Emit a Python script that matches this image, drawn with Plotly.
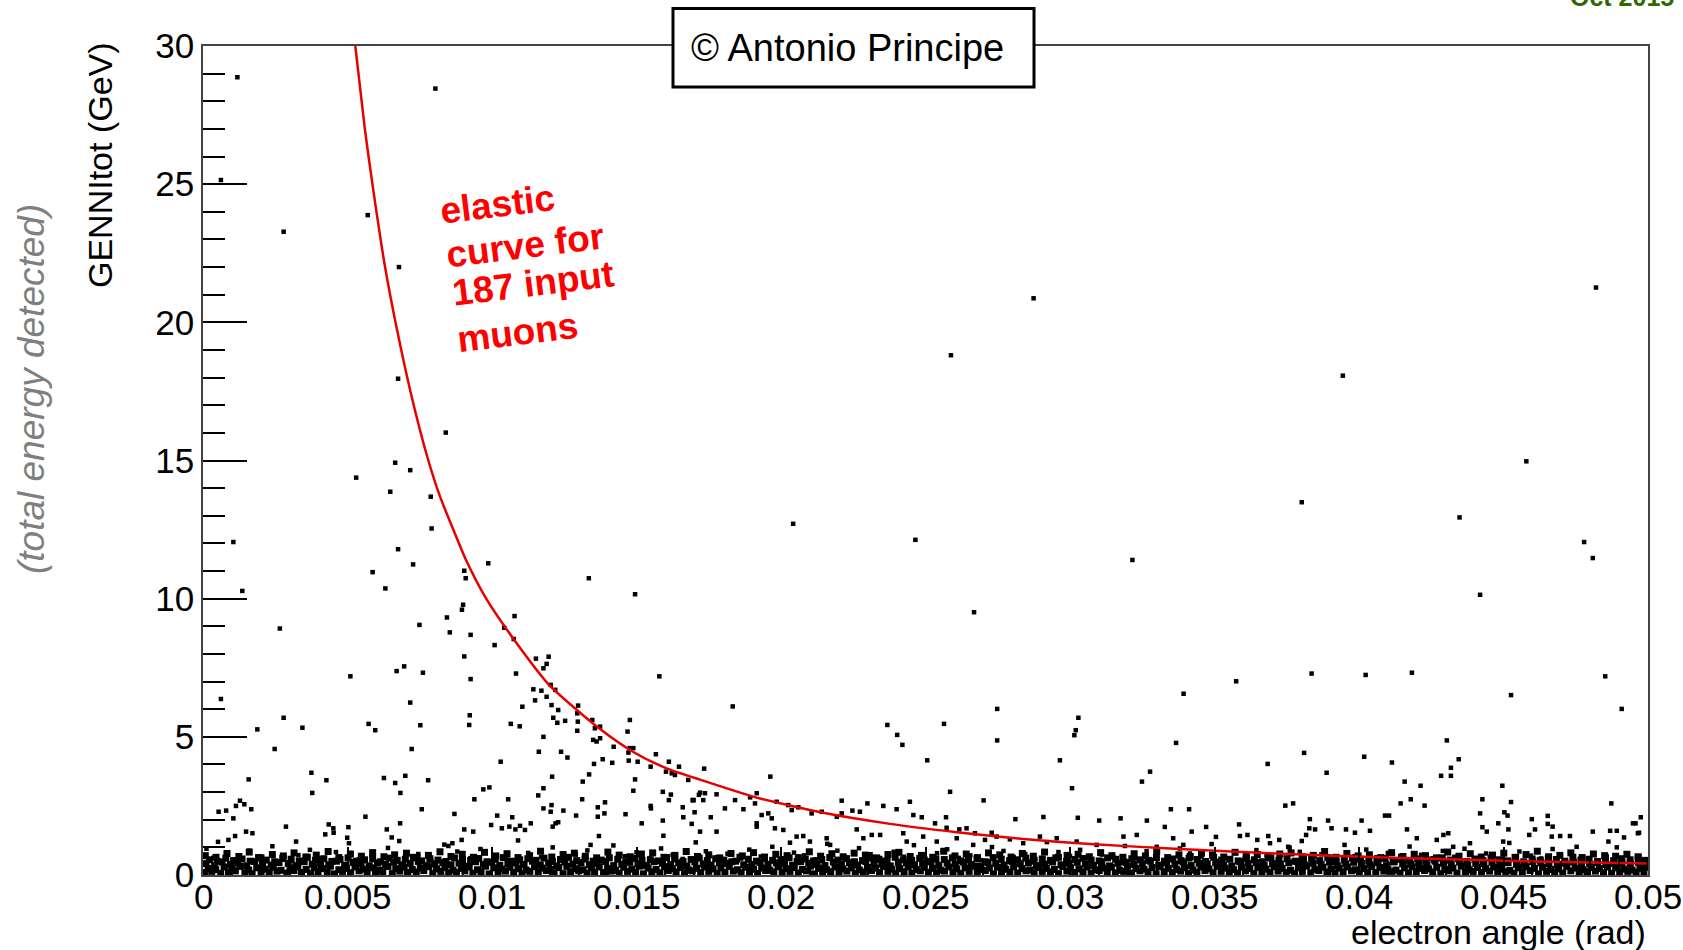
import plotly.graph_objects as go

FONT = "Liberation Sans"

# ---------------- data ----------------
# elastic curve (electron angle [rad], energy [GeV])
curve_theta = [0.00527, 0.0056, 0.00589, 0.0063, 0.0067, 0.0072, 0.00777, 0.0082, 0.00866, 0.0091,
               0.0098, 0.01074, 0.012, 0.01374, 0.01489, 0.016, 0.0172, 0.01916, 0.02146, 0.02377,
               0.02608, 0.02839, 0.03069, 0.03346, 0.03692, 0.04038, 0.04384, 0.04615, 0.04995]
curve_e = [30.0, 27.0, 24.8, 22.0, 19.8, 17.4, 15.1, 13.7, 12.5, 11.4,
           10.0, 8.55, 6.85, 5.28, 4.45, 3.88, 3.45, 2.8, 2.25, 1.85,
           1.55, 1.3, 1.12, 0.96, 0.79, 0.65, 0.55, 0.49, 0.42]

# isolated events, high energy
high_theta = [0.00119, 0.00804, 0.00062, 0.0057, 0.00279, 0.00678, 0.00675, 0.0084, 0.00665, 0.00717,
              0.0053, 0.00648, 0.00788, 0.00791, 0.00105, 0.00675,
              0.02042, 0.02465, 0.02588, 0.02874, 0.03802, 0.03944, 0.04348, 0.04579, 0.0482, 0.04779,
              0.04809, 0.03216, 0.02668, 0.04419,
              0.00136, 0.00587, 0.00727, 0.00631, 0.00904, 0.00909, 0.00987, 0.01335, 0.01495, 0.00266,
              0.009, 0.00896, 0.00844, 0.00854, 0.00749, 0.00926, 0.01078, 0.01042, 0.01075, 0.01009]
high_e = [28.87, 28.46, 25.15, 23.88, 23.28, 22.0, 17.96, 16.01, 14.92, 14.65,
          14.38, 13.87, 13.69, 12.54, 12.05, 11.79,
          12.71, 12.13, 18.81, 20.87, 13.49, 18.07, 12.94, 14.97, 21.26, 12.05,
          11.47, 11.40, 9.51, 10.14,
          10.28, 10.96, 11.24, 10.37, 11.01, 10.74, 11.28, 10.74, 10.16, 8.92,
          9.78, 9.60, 9.32, 8.78, 9.05, 8.69, 9.37, 8.95, 8.54, 8.32]

# events at intermediate energy, left part (theta < 0.018)
mid_left_theta = [0.00904, 0.00926, 0.01083, 0.01152, 0.01178, 0.01189, 0.01196, 0.0051, 0.0067, 0.00696,
                  0.00761, 0.00062, 0.00717, 0.01143, 0.01171, 0.01149, 0.01203, 0.01219, 0.01105, 0.01189,
                  0.01206, 0.01229, 0.01298, 0.01212, 0.01226, 0.01253, 0.01295, 0.01297, 0.01295, 0.00279,
                  0.00344, 0.00188, 0.00573, 0.00596, 0.00752, 0.00923, 0.00921, 0.01065, 0.01096, 0.01347,
                  0.01374, 0.01356, 0.01374, 0.0135, 0.01362, 0.01477, 0.01469, 0.01477, 0.01472, 0.01489,
                  0.00248, 0.00722, 0.01162, 0.01178, 0.01239, 0.01261, 0.01421, 0.01416, 0.01383, 0.01353,
                  0.01504, 0.01473, 0.01567, 0.01549, 0.01612, 0.01602, 0.01622, 0.01633, 0.01647, 0.01679,
                  0.0103, 0.00158, 0.00375, 0.00378, 0.00427, 0.00626, 0.00665, 0.007, 0.00683, 0.00779,
                  0.01208, 0.01178, 0.0116, 0.01178, 0.01206, 0.01203, 0.01314, 0.01336, 0.01312, 0.01495,
                  0.01489, 0.01579, 0.0097, 0.00991, 0.00939, 0.01056, 0.01591, 0.01619, 0.01612, 0.01697,
                  0.01716]
mid_left_e = [7.91, 7.09, 7.29, 7.83, 7.48, 7.64, 7.90, 7.19, 7.38, 7.55,
              7.32, 6.37, 6.24, 6.72, 6.67, 6.32, 6.88, 6.70, 6.09, 6.45,
              6.15, 5.97, 6.13, 5.69, 5.51, 5.58, 5.85, 5.55, 5.22, 5.69,
              5.33, 5.27, 5.47, 5.24, 5.42, 5.78, 5.43, 5.47, 5.38, 5.61,
              5.37, 5.31, 4.95, 4.89, 4.83, 5.61, 5.19, 4.59, 4.43, 4.59,
              4.56, 4.56, 4.46, 5.0, 4.46, 4.25, 4.64, 4.06, 4.19, 4.02,
              4.10, 4.14, 4.37, 3.92, 4.10, 3.74, 3.68, 3.62, 3.92, 3.44,
              4.10, 3.46, 3.70, 2.97, 3.43, 3.51, 3.33, 3.59, 2.97, 3.43,
              3.56, 3.14, 2.88, 2.41, 2.53, 2.29, 3.38, 3.64, 2.74, 3.46,
              3.05, 7.19, 3.10, 3.17, 2.74, 2.74, 3.01, 2.91, 2.71, 2.71,
              2.90]

# events at intermediate energy, right part (theta > 0.017)
mid_right_theta = [0.01833, 0.02748, 0.02748, 0.02368, 0.02402, 0.0242, 0.02564, 0.02506, 0.03029, 0.0302,
                   0.03015, 0.03007, 0.02965, 0.03393, 0.03367, 0.03277, 0.03249, 0.02585, 0.02701, 0.01963,
                   0.01734, 0.03349, 0.03412, 0.03575, 0.03836, 0.04023, 0.04183, 0.04852, 0.04526, 0.04909,
                   0.03684, 0.0381, 0.04018, 0.03888, 0.04114, 0.04304, 0.04345, 0.04318, 0.04318, 0.04284,
                   0.04158, 0.04213, 0.04496, 0.04873, 0.04427, 0.04419, 0.04526, 0.04503, 0.04514, 0.04144,
                   0.04179, 0.04227, 0.03745, 0.03772]
mid_right_e = [6.10, 6.01, 4.87, 5.43, 5.07, 4.71, 5.47, 4.15, 5.69, 5.24,
               5.06, 3.14, 4.15, 6.56, 4.78, 3.74, 3.38, 3.01, 2.70, 3.56,
               3.85, 2.38, 2.38, 7.01, 7.29, 7.24, 7.32, 7.19, 6.51, 6.01,
               4.02, 4.42, 4.28, 3.70, 4.07, 4.87, 4.19, 3.88, 3.59, 3.59,
               3.38, 3.23, 3.23, 2.59, 2.74, 2.23, 2.64, 2.27, 2.15, 2.59,
               2.74, 2.51, 2.51, 2.59]

# events in the 1-3 GeV range
low_theta = [0.00054, 0.0008, 0.00128, 0.00143, 0.00114, 0.00167, 0.00105, 0.00088, 0.00111, 0.00149,
             0.00171, 0.00287, 0.00322, 0.00562, 0.00435, 0.00451, 0.00452, 0.00423, 0.00503, 0.00499,
             0.00636, 0.00653, 0.00682, 0.00679, 0.00757, 0.0087, 0.00904, 0.00935, 0.00895, 0.00863,
             0.00849, 0.00997, 0.01018, 0.01034, 0.0107, 0.0106, 0.01081, 0.01097, 0.01134, 0.01114,
             0.01247, 0.01291, 0.01229, 0.0122, 0.0121, 0.01366, 0.01366, 0.01391, 0.01389, 0.0137,
             0.01341, 0.01462, 0.01518, 0.01549, 0.0155, 0.01591, 0.01593, 0.0166, 0.01662, 0.01691,
             0.01694,
             0.0172, 0.01737, 0.01777, 0.01731, 0.01697, 0.01701, 0.01757, 0.01806, 0.01841, 0.0187,
             0.01916, 0.01893, 0.0191, 0.01933, 0.01956, 0.01985, 0.01968, 0.01979, 0.02025, 0.02037,
             0.0206, 0.01777, 0.0172, 0.01916, 0.02106, 0.02141, 0.02193, 0.0221, 0.0221, 0.02247,
             0.02273, 0.02299, 0.02354, 0.024, 0.02446, 0.02458, 0.02487, 0.02533, 0.02571, 0.02573,
             0.02617, 0.02642, 0.02671, 0.02706, 0.02729, 0.02792, 0.02811, 0.02908, 0.03027, 0.03101,
             0.03175, 0.03266, 0.03328, 0.01916, 0.02008, 0.02054, 0.02031, 0.02077, 0.021, 0.02158,
             0.0217, 0.02262, 0.02285, 0.02314, 0.02343, 0.02423, 0.02435, 0.02492, 0.02539, 0.02608,
             0.02665, 0.02746, 0.02838, 0.02896, 0.02954, 0.03023, 0.03092, 0.03185, 0.03231, 0.033,
             0.03357, 0.03392,
             0.04975, 0.04957, 0.04969, 0.04917, 0.0409, 0.04104, 0.04009, 0.04038, 0.03955, 0.03986,
             0.03905, 0.03893, 0.0383, 0.03848, 0.03828, 0.03817, 0.03802, 0.03585, 0.03471, 0.03421,
             0.03505, 0.03588, 0.03614, 0.03648, 0.03686, 0.03724, 0.03692, 0.03755, 0.04166, 0.042,
             0.04269, 0.04292, 0.04309, 0.04326, 0.04384, 0.04427, 0.04442, 0.04482, 0.04517, 0.04499,
             0.04598, 0.04609, 0.04589, 0.04653, 0.04653, 0.0467, 0.04667, 0.04696, 0.0473, 0.04753,
             0.04809, 0.04869, 0.04892, 0.04863, 0.04892, 0.04948, 0.04965]
low_e = [2.29, 2.33, 2.69, 2.56, 2.50, 2.38, 2.05, 1.27, 1.41, 1.57,
         1.51, 1.75, 1.21, 2.11, 1.83, 1.69, 1.53, 1.47, 1.73, 1.35,
         1.65, 1.36, 1.87, 1.23, 2.38, 2.21, 1.65, 1.57, 1.27, 1.15,
         1.05, 1.81, 2.15, 1.69, 2.09, 1.75, 1.65, 1.78, 1.87, 1.63,
         2.33, 2.15, 1.91, 1.87, 1.75, 2.45, 2.11, 2.63, 2.23, 1.41,
         1.09, 2.20, 1.87, 2.50, 2.41, 1.97, 1.42, 2.45, 2.09, 1.85,
         2.71,
         2.98, 2.96, 2.92, 2.71, 2.71, 2.27, 2.09, 2.41, 2.71, 2.38,
         2.96, 2.81, 2.59, 2.17, 2.23, 2.65, 2.05, 1.69, 2.53, 2.35,
         2.45, 1.57, 1.57, 1.75, 2.23, 2.29, 2.11, 2.23, 2.69, 2.33,
         2.29, 2.59, 2.50, 2.38, 2.65, 2.17, 2.09, 1.87, 2.09, 1.71,
         1.65, 1.69, 1.51, 1.27, 1.53, 1.29, 2.02, 2.10, 2.07, 1.97,
         2.05, 1.97, 1.74, 1.87, 1.63, 1.39, 1.17, 1.41, 1.21, 1.33,
         1.09, 1.65, 1.33, 1.45, 1.45, 1.51, 1.21, 1.39, 1.21, 1.33,
         1.09, 1.39, 1.15, 1.39, 1.33, 1.21, 1.09, 1.39, 1.45, 1.02,
         1.33, 1.09,
         2.09, 1.87, 1.53, 1.36, 2.15, 2.15, 1.97, 1.60, 1.65, 1.53,
         1.69, 1.97, 2.02, 1.65, 1.69, 1.45, 1.23, 1.83, 1.74, 1.57,
         1.38, 1.41, 1.45, 1.27, 1.41, 1.27, 1.15, 1.02, 1.65, 1.33,
         1.27, 1.45, 1.51, 1.02, 1.15, 1.73, 1.57, 1.87, 1.65, 1.21,
         2.02, 1.65, 1.45, 2.14, 1.85, 1.75, 1.39, 1.41, 1.41, 1.02,
         1.57, 1.60, 1.60, 1.21, 1.00, 1.87, 1.51]

# dense band below ~1.3 GeV: angle in 1e-5 rad, energy in 0.01 GeV
band1_x = [5, 30, 61, 88, 112, 145, 170, 201, 229, 256, 290, 315, 341, 372, 398, 430, 455, 483, 511, 540,
           568, 597, 622, 655, 681, 709, 738, 764, 795, 823, 850, 877, 906, 934, 962, 990, 1021, 1047, 1075, 1104,
           1131, 1160, 1188, 1215, 1246, 1272, 1300, 1329, 1355, 1386, 1412, 1440, 1469, 1497, 1524, 1553, 1581, 1610, 1637, 1666,
           1693, 1722, 1750, 1779, 1806, 1835, 1862, 1891, 1919, 1947, 1975, 2004, 2031, 2060, 2088, 2116, 2144, 2172, 2201, 2228,
           2257, 2285, 2313, 2341, 2370, 2397, 2426, 2453, 2482, 2510, 2538, 2566, 2595, 2622, 2651, 2679, 2707, 2735, 2763, 2792,
           2819, 2848, 2876, 2904, 2932, 2960, 2989, 3016, 3045, 3073, 3101, 3129, 3157, 3186, 3213, 3242, 3270, 3298, 3326, 3354,
           3383, 3410, 3439, 3467, 3495, 3523, 3551, 3580, 3607, 3636, 3664, 3692, 3720, 3748, 3777, 3804, 3833, 3861, 3889, 3917,
           3945, 3974, 4001, 4030, 4058, 4086, 4114, 4142, 4171, 4198, 4227, 4255, 4283, 4311, 4339, 4368, 4395, 4424, 4452, 4480,
           4508, 4536, 4565, 4592, 4621, 4649, 4677, 4705, 4733, 4762, 4789, 4818, 4846, 4874, 4902, 4930, 4959, 4986]
band1_y = [9, 13, 6, 11, 15, 8, 5, 12, 10, 14, 7, 16, 9, 6, 12, 11, 4, 13, 8, 15,
           10, 7, 12, 5, 14, 9, 11, 16, 6, 13, 8, 10, 15, 7, 12, 4, 11, 14, 9, 6,
           13, 10, 16, 8, 5, 12, 15, 7, 11, 9, 14, 6, 13, 10, 4, 12, 8, 16, 11, 7,
           15, 9, 13, 5, 10, 14, 8, 12, 6, 16, 11, 9, 13, 7, 15, 4, 10, 12, 8, 14,
           6, 11, 16, 9, 13, 5, 12, 7, 15, 10, 8, 14, 11, 6, 13, 9, 16, 4, 12, 10,
           7, 15, 8, 13, 11, 5, 14, 9, 12, 6, 16, 10, 8, 13, 7, 15, 11, 4, 12, 9,
           14, 6, 10, 16, 8, 13, 11, 7, 15, 5, 12, 9, 14, 10, 6, 13, 8, 16, 11, 7,
           12, 15, 4, 10, 9, 14, 13, 6, 8, 12, 16, 11, 5, 15, 7, 10, 13, 9, 14, 8,
           12, 6, 11, 16, 4, 13, 10, 7, 15, 9, 12, 14, 8, 6, 11, 13, 10, 9]
band2_x = [18, 44, 73, 101, 128, 158, 186, 214, 243, 270, 301, 328, 357, 385, 414, 441, 470, 497, 526, 555,
           583, 611, 640, 667, 696, 724, 752, 781, 809, 837, 865, 894, 921, 950, 978, 1006, 1034, 1062, 1090, 1118,
           1147, 1174, 1203, 1231, 1259, 1287, 1315, 1344, 1371, 1400, 1428, 1456, 1484, 1512, 1540, 1568, 1597, 1624, 1652, 1681,
           1708, 1736, 1765, 1792, 1821, 1849, 1877, 1905, 1933, 1961, 1990, 2017, 2046, 2074, 2102, 2130, 2158, 2187, 2214, 2243,
           2271, 2299, 2327, 2355, 2384, 2411, 2440, 2468, 2496, 2524, 2552, 2581, 2608, 2637, 2665, 2693, 2721, 2749, 2778, 2805,
           2834, 2862, 2890, 2918, 2946, 2975, 3002, 3031, 3059, 3087, 3115, 3143, 3172, 3199, 3228, 3256, 3284, 3312, 3340, 3369,
           3396, 3425, 3453, 3481, 3509, 3537, 3566, 3593, 3622, 3650, 3678, 3706, 3734, 3763, 3790, 3819, 3847, 3875, 3903, 3931,
           3960, 3987, 4016, 4044, 4072, 4100, 4128, 4157, 4184, 4213, 4241, 4269, 4297, 4325, 4354, 4381, 4410, 4438, 4466, 4494,
           4522, 4551, 4578, 4607, 4635, 4663, 4691, 4719, 4748, 4775, 4804, 4832, 4860, 4888, 4916, 4945, 4972, 4995]
band2_y = [24, 19, 29, 22, 31, 18, 26, 21, 28, 17, 25, 30, 20, 27, 23, 32, 19, 24, 29, 21,
           26, 18, 31, 23, 28, 20, 25, 30, 22, 27, 17, 24, 29, 19, 32, 26, 21, 28, 23, 18,
           30, 25, 20, 27, 31, 22, 19, 26, 29, 24, 17, 28, 21, 32, 25, 20, 30, 23, 27, 18,
           24, 29, 22, 26, 31, 19, 28, 21, 25, 17, 30, 23, 27, 20, 32, 24, 19, 29, 22, 26,
           18, 28, 25, 31, 21, 23, 30, 20, 27, 24, 17, 29, 22, 26, 32, 19, 25, 28, 21, 30,
           23, 18, 27, 24, 20, 31, 26, 22, 29, 19, 25, 28, 17, 32, 23, 21, 27, 30, 24, 20,
           26, 18, 29, 22, 31, 25, 19, 28, 23, 27, 21, 30, 24, 17, 26, 32, 20, 28, 22, 25,
           29, 19, 23, 31, 27, 21, 18, 26, 30, 24, 22, 28, 20, 25, 32, 19, 27, 23, 29, 21,
           17, 26, 30, 24, 28, 20, 22, 31, 25, 19, 27, 23, 29, 26, 21, 18, 24, 28]
band3_x = [10, 40, 66, 95, 120, 151, 179, 206, 236, 263, 295, 321, 350, 378, 407, 435, 462, 490, 519, 547,
           575, 604, 632, 660, 688, 717, 745, 773, 802, 830, 858, 886, 914, 943, 970, 999, 1027, 1055, 1083, 1111,
           1140, 1167, 1196, 1224, 1252, 1280, 1308, 1337, 1364, 1393, 1421, 1449, 1477, 1505, 1534, 1561, 1590, 1618, 1646, 1674,
           1702, 1731, 1758, 1787, 1815, 1843, 1871, 1899, 1928, 1955, 1984, 2012, 2040, 2068, 2096, 2125, 2152, 2181, 2209, 2237,
           2265, 2293, 2322, 2349, 2378, 2406, 2434, 2462, 2490, 2519, 2546, 2575, 2603, 2631, 2659, 2687, 2716, 2743, 2772, 2800,
           2828, 2856, 2884, 2913, 2940, 2969, 2997, 3025, 3053, 3081, 3110, 3137, 3166, 3194, 3222, 3250, 3278, 3307, 3334, 3363,
           3391, 3419, 3447, 3475, 3504, 3531, 3560, 3588, 3616, 3644, 3672, 3701, 3728, 3757, 3785, 3813, 3841, 3869, 3898, 3925,
           3954, 3982, 4010, 4038, 4066, 4095, 4122, 4151, 4179, 4207, 4235, 4263, 4292, 4319, 4348, 4376, 4404, 4432, 4460, 4489,
           4516, 4545, 4573, 4601, 4629, 4657, 4686, 4713, 4742, 4770, 4798, 4826, 4854, 4883, 4910, 4939, 4967, 4992]
band3_y = [41, 35, 47, 38, 44, 33, 49, 40, 36, 45, 42, 34, 48, 39, 43, 37, 50, 35, 46, 41,
           33, 44, 38, 47, 36, 42, 49, 34, 40, 45, 37, 43, 32, 48, 39, 46, 35, 41, 44, 38,
           50, 36, 43, 33, 47, 40, 45, 37, 42, 49, 34, 39, 46, 41, 35, 48, 43, 38, 44, 32,
           47, 40, 36, 45, 42, 50, 37, 33, 46, 39, 44, 41, 35, 48, 43, 38, 34, 47, 40, 45,
           36, 49, 42, 39, 33, 46, 44, 37, 41, 48, 35, 43, 40, 47, 38, 32, 45, 42, 36, 49,
           41, 44, 34, 39, 47, 37, 43, 46, 40, 35, 48, 33, 42, 45, 38, 41, 50, 36, 44, 39,
           47, 34, 43, 40, 46, 37, 32, 48, 42, 45, 35, 41, 39, 44, 49, 36, 43, 38, 47, 33,
           40, 46, 42, 37, 45, 34, 48, 41, 39, 44, 36, 50, 43, 38, 47, 35, 42, 40, 46, 33,
           45, 39, 37, 48, 44, 41, 36, 43, 47, 34, 40, 45, 38, 42, 44, 39, 46, 41]
band4_x = [22, 50, 79, 106, 135, 163, 192, 219, 248, 276, 305, 333, 361, 389, 418, 446, 474, 502, 531, 559,
           587, 615, 644, 672, 700, 728, 757, 785, 813, 841, 870, 898, 926, 954, 983, 1011, 1039, 1067, 1096, 1124,
           1152, 1180, 1209, 1237, 1265, 1293, 1322, 1350, 1378, 1406, 1435, 1463, 1491, 1519, 1548, 1576, 1604, 1632, 1661, 1689,
           1717, 1745, 1774, 1802, 1830, 1858, 1887, 1915, 1943, 1971, 2000, 2028, 2056, 2084, 2113, 2141, 2169, 2197, 2226, 2254,
           2282, 2310, 2339, 2367, 2395, 2423, 2452, 2480, 2508, 2536, 2565, 2593, 2621, 2649, 2678, 2706, 2734, 2762, 2791, 2819,
           2847, 2875, 2904, 2932, 2960, 2988, 3017, 3045, 3073, 3101, 3130, 3158, 3186, 3214, 3243, 3271, 3299, 3327, 3356, 3384,
           3412, 3440, 3469, 3497, 3525, 3553, 3582, 3610, 3638, 3666, 3695, 3723, 3751, 3779, 3808, 3836, 3864, 3892, 3921, 3949,
           3977, 4005, 4034, 4062, 4090, 4118, 4147, 4175, 4203, 4231, 4260, 4288, 4316, 4344, 4373, 4401, 4429, 4457, 4486, 4514,
           4542, 4570, 4599, 4627, 4655, 4683, 4712, 4740, 4768, 4796, 4825, 4853, 4881, 4909, 4938, 4966, 4990]
band4_y = [55, 49, 61, 52, 58, 50, 63, 54, 48, 60, 57, 51, 64, 53, 59, 49, 56, 62, 50, 55,
           58, 48, 61, 53, 57, 64, 51, 59, 54, 49, 62, 56, 52, 60, 48, 57, 63, 50, 55, 59,
           53, 61, 49, 56, 64, 52, 58, 50, 54, 62, 57, 48, 60, 53, 55, 51, 63, 58, 49, 56,
           61, 52, 59, 54, 48, 64, 57, 50, 60, 53, 55, 62, 49, 58, 51, 56, 63, 54, 59, 48,
           52, 61, 57, 50, 64, 55, 53, 60, 49, 58, 56, 62, 51, 54, 59, 48, 63, 57, 52, 55,
           61, 50, 58, 53, 64, 49, 56, 60, 54, 51, 62, 57, 48, 59, 55, 53, 63, 50, 58, 52,
           61, 56, 49, 64, 54, 57, 51, 60, 55, 48, 62, 53, 59, 50, 56, 58, 52, 63, 49, 54,
           61, 57, 51, 55, 60, 48, 64, 53, 58, 50, 56, 62, 54, 59, 49, 57, 52, 61, 55, 51,
           63, 48, 58, 53, 60, 56, 50, 64, 54, 57, 49, 62, 52, 59, 55, 60, 53]
band5_x = [8, 45, 83, 124, 160, 198, 240, 278, 315, 356, 392, 433, 470, 510, 548, 587, 626, 663, 704, 741,
           780, 820, 858, 897, 936, 974, 1013, 1052, 1090, 1130, 1168, 1207, 1246, 1285, 1323, 1362, 1401, 1440, 1478, 1517,
           1556, 1595, 1633, 1672, 1711, 1750, 1788, 1827, 1866, 1905, 1943, 1982, 2021, 2060, 2098, 2137, 2176, 2215, 2253, 2292,
           2331, 2370, 2408, 2447, 2486, 2525, 2563, 2602, 2641, 2680, 2718, 2757, 2796, 2835, 2873, 2912, 2951, 2990, 3028, 3067,
           3106, 3145, 3183, 3222, 3261, 3300, 3338, 3377, 3416, 3455, 3493, 3532, 3571, 3610, 3648, 3687, 3726, 3765, 3803, 3842,
           3881, 3920, 3958, 3997, 4036, 4075, 4113, 4152, 4191, 4230, 4268, 4307, 4346, 4385, 4423, 4462, 4501, 4540, 4578, 4617,
           4656, 4695, 4733, 4772, 4811, 4850, 4888, 4927, 4966]
band5_y = [70, 64, 78, 67, 83, 62, 74, 69, 80, 65, 72, 85, 63, 76, 68, 81, 66, 73, 79, 62,
           71, 84, 67, 75, 64, 82, 69, 77, 63, 70, 86, 65, 74, 79, 68, 62, 83, 72, 66, 76,
           80, 64, 71, 85, 67, 73, 62, 78, 69, 81, 65, 75, 70, 63, 84, 68, 77, 66, 79, 72,
           62, 74, 82, 67, 71, 64, 86, 69, 76, 63, 80, 73, 65, 78, 68, 83, 62, 71, 75, 66,
           81, 70, 64, 77, 69, 84, 63, 73, 67, 79, 72, 65, 82, 68, 74, 62, 76, 80, 66, 71,
           85, 64, 78, 69, 73, 63, 81, 67, 75, 70, 62, 83, 68, 77, 65, 72, 79, 64, 74, 86,
           66, 71, 80, 63, 76, 70, 68, 75, 66]
band6_x = [12, 35, 52, 80, 110, 160, 205, 240, 275, 330, 370, 402, 460, 505, 540, 590, 640, 700, 745, 790,
           835, 880, 925, 960, 1010, 1052, 1090, 1125, 1170, 1210, 1250, 1290, 1330, 1380, 1420, 1460, 1500, 1545, 1585, 1625,
           1660, 1705, 1740, 1780, 1815, 1850, 1890, 1930, 1970, 2010, 2045, 2080, 2120, 2160, 2195, 2230, 2270, 2310, 2350, 2390,
           2425, 2460, 2500, 2540, 2575, 2615, 2655, 2690, 2730, 2770, 2805, 2845, 2880, 2920, 2960, 3000, 3035, 3075, 3110, 3150,
           3190, 3225, 3265, 3300, 3340, 3380, 3415, 3455, 3490, 3530, 3570, 3605, 3645, 3680, 3720, 3760, 3795, 3835, 3870, 3910,
           3950, 3985, 4025, 4060, 4100, 4140, 4175, 4215, 4250, 4290, 4330, 4365, 4405, 4440, 4480, 4520, 4555, 4595, 4630, 4670]
band6_y = [95, 62, 120, 78, 55, 88, 66, 104, 58, 72, 91, 60, 83, 115, 57, 69, 98, 63, 76, 52,
           110, 85, 61, 94, 70, 56, 125, 80, 65, 100, 59, 74, 89, 54, 107, 68, 82, 61, 96, 73,
           58, 118, 86, 64, 77, 53, 92, 67, 102, 60, 81, 71, 57, 113, 88, 63, 97, 75, 55, 84,
           66, 108, 59, 79, 93, 62, 71, 54, 101, 87, 65, 76, 58, 119, 83, 69, 91, 56, 74, 64,
           105, 60, 86, 72, 53, 96, 78, 67, 112, 58, 81, 63, 90, 70, 55, 99, 84, 61, 75, 57,
           109, 68, 92, 64, 80, 52, 103, 73, 59, 87, 66, 95, 62, 78, 54, 116, 85, 70, 60, 94]

x_tick_vals = [0, 0.005, 0.01, 0.015, 0.02, 0.025, 0.03, 0.035, 0.04, 0.045, 0.05]
x_tick_text = ["0", "0.005", "0.01", "0.015", "0.02", "0.025", "0.03", "0.035", "0.04", "0.045", "0.05"]
x_minor_vals = [i / 1000 for i in range(51)]

# ---------------- build figure ----------------
band_theta, band_e = [], []
for bx, by in ((band1_x, band1_y), (band2_x, band2_y), (band3_x, band3_y),
               (band4_x, band4_y), (band5_x, band5_y)):
    for a, b in zip(bx, by):
        band_theta.append(a * 1e-5)
        band_e.append(b * 0.01)
sparse_band_theta = [a * 1e-5 for a, b in zip(band6_x, band6_y)]
sparse_band_e = [b * 0.01 for a, b in zip(band6_x, band6_y)]

pts_theta = high_theta + mid_left_theta + mid_right_theta + low_theta + sparse_band_theta
pts_e = high_e + mid_left_e + mid_right_e + low_e + sparse_band_e

fig = go.Figure()
fig.add_trace(go.Scatter(x=band_theta, y=band_e, mode="markers",
                         marker=dict(symbol="square", size=7, color="black", line=dict(width=0)),
                         hoverinfo="skip"))
fig.add_trace(go.Scatter(x=pts_theta, y=pts_e, mode="markers",
                         marker=dict(symbol="square", size=4.5, color="black", line=dict(width=0)),
                         hoverinfo="skip"))
fig.add_trace(go.Scatter(x=curve_theta, y=curve_e, mode="lines",
                         line=dict(color="rgb(230,0,0)", width=2.5, shape="spline", smoothing=0.6),
                         hoverinfo="skip"))

axis_common = dict(showgrid=False, zeroline=False, showline=True, linecolor="#444444", linewidth=1.5,
                   mirror=True, ticks="inside", tickcolor="black", tickwidth=1.5, automargin=False,
                   tickfont=dict(family=FONT, size=35, color="black"))

fig.update_xaxes(range=[0, 0.05], tickmode="array", tickvals=x_tick_vals, showticklabels=False,
                 ticklen=28,
                 minor=dict(ticks="inside", ticklen=14, tickmode="array", tickvals=x_minor_vals,
                            tickcolor="black", tickwidth=1.5),
                 **axis_common)
fig.update_yaxes(range=[0, 30], tick0=0, dtick=5, ticklen=44, ticklabelstandoff=0,
                 minor=dict(ticks="inside", ticklen=22, dtick=1, tickcolor="black", tickwidth=1.5),
                 **axis_common)

L, R, T, B = 203, 35, 46, 75
PW, PH = 1683 - L - R, 950 - T - B


def px(x):
    return (x - L) / PW


def py(y):
    return (950 - B - y) / PH


annotations = [
    dict(text="GENNItot (GeV)", x=px(100), y=py(165), textangle=-90,
         font=dict(family=FONT, size=34, color="black")),
    dict(text="<i>(total energy detected)</i>", x=px(32), y=py(389), textangle=-90,
         font=dict(family=FONT, size=37, color="#7f7f7f")),
    dict(text="electron angle (rad)", x=1.0, y=py(932), xanchor="right",
         font=dict(family=FONT, size=34, color="black")),
    dict(text="© Antonio Principe", x=px(847), y=py(48),
         font=dict(family=FONT, size=38, color="black")),
    dict(text="Oct 2015", x=px(1622), y=py(-3),
         font=dict(family=FONT, size=25, color="#336600", weight="bold")),
]
for a in annotations:
    a.setdefault("xanchor", "center")
    a.update(xref="paper", yref="paper", yanchor="middle", showarrow=False)

for v, t in zip(x_tick_vals, x_tick_text):
    annotations.append(dict(text=t, x=v, y=py(896), xref="x", yref="paper", xanchor="center",
                            yanchor="middle", showarrow=False,
                            font=dict(family=FONT, size=35, color="black")))

label_lines = [("elastic", 0.010173, 24.25), ("curve for", 0.011142, 22.77),
               ("187 input", 0.011419, 21.39), ("muons", 0.010865, 19.65)]
for txt, lx, ly in label_lines:
    annotations.append(dict(text=txt, x=lx, y=ly, xref="x", yref="y", xanchor="center", yanchor="middle",
                            textangle=-7, showarrow=False,
                            font=dict(family=FONT, size=37, color="#ff0000", weight="bold")))

fig.update_layout(
    width=1683, height=950,
    margin=dict(l=L, r=R, t=T, b=B, pad=0, autoexpand=False),
    paper_bgcolor="white", plot_bgcolor="white",
    showlegend=False,
    annotations=annotations,
    shapes=[dict(type="rect", xref="paper", yref="paper", x0=px(673), x1=px(1034), y0=py(87), y1=py(8.5),
                 fillcolor="white", line=dict(color="black", width=3), layer="above")],
)

fig.write_html("out.html")
